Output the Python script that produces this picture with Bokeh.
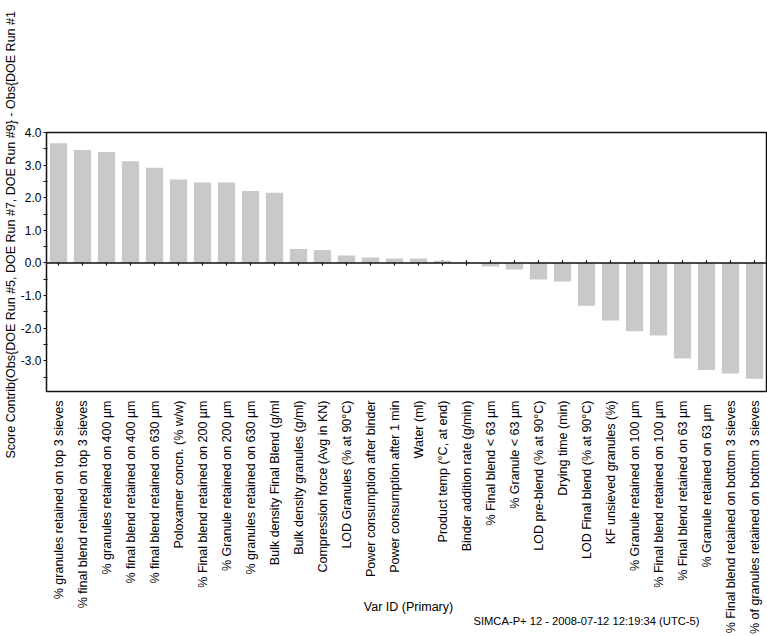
import math
from bokeh.plotting import figure
from bokeh.models import FactorRange, Range1d, FixedTicker, NumeralTickFormatter, Label, Span, Title
from bokeh.embed import file_html
from bokeh.resources import INLINE

categories = [
    "% granules retained on top 3 sieves",
    "% final blend retained on top 3 sieves",
    "% granules retained on 400 µm",
    "% final blend retained on 400 µm",
    "% final blend retained on 630 µm",
    "Poloxamer concn. (% w/w)",
    "% Final blend retained on 200 µm",
    "% Granule retained on 200 µm",
    "% granules retained on 630 µm",
    "Bulk density Final Blend (g/ml",
    "Bulk density granules (g/ml)",
    "Compression force (Avg in KN)",
    "LOD Granules (% at 90°C)",
    "Power consumption after binder",
    "Power consumption after 1 min",
    "Water (ml)",
    "Product temp (°C, at end)",
    "Binder addition rate (g/min)",
    "% Final blend < 63 µm",
    "% Granule < 63 µm",
    "LOD pre-blend (% at 90°C)",
    "Drying time (min)",
    "LOD Final blend (% at 90°C)",
    "KF unsieved granules (%)",
    "% Granule retained on 100 µm",
    "% Final blend retained on 100 µm",
    "% Final blend retained on 63 µm",
    "% Granule retained on  63 µm",
    "% Final blend retained on bottom 3 sieves",
    "% of granules retained on bottom 3 sieves",
]
values = [3.67, 3.46, 3.40, 3.12, 2.92, 2.56, 2.47, 2.47, 2.21, 2.15,
          0.43, 0.40, 0.23, 0.17, 0.14, 0.14, 0.07, 0.01, -0.11, -0.20,
          -0.51, -0.57, -1.31, -1.76, -2.09, -2.22, -2.93, -3.28, -3.39, -3.55]
y_ticks = [-3, -2, -1, 0, 1, 2, 3, 4]
y_minor = [-3.5, -2.5, -1.5, -0.5, 0.5, 1.5, 2.5, 3.5]
y_title = "Score Contrib(Obs{DOE Run #5, DOE Run #7, DOE Run #9} - Obs{DOE Run #1"
x_title = "Var ID (Primary)"
footer = "SIMCA-P+ 12 - 2008-07-12 12:19:34 (UTC-5)"

FONT = "Liberation Sans"
W, H = 767, 636

p = figure(width=W, height=H, output_backend="svg", toolbar_location=None,
           x_range=FactorRange(factors=categories, range_padding=0),
           y_range=Range1d(-3.94, 4.0),
           min_border_left=46, min_border_top=132, min_border_right=1, min_border_bottom=243)
p.background_fill_color = "white"
p.border_fill_color = "white"
p.outline_line_color = "#111111"
p.outline_line_width = 1.5
p.grid.visible = False

# tick marks at the zero line
p.segment(x0=categories, x1=categories, y0=[-0.08] * len(categories), y1=[0.08] * len(categories),
          line_color="#111111", line_width=1.2)
p.vbar(x=categories, top=values, bottom=0, width=0.72, fill_color="#c9c9c9", line_color=None)
p.add_layout(Span(location=0, dimension="width", line_color="#111111", line_width=1.5))

xa = p.xaxis[0]
xa.axis_line_color = None
xa.major_tick_line_color = None
xa.minor_tick_line_color = None
xa.major_label_orientation = math.pi / 2
xa.major_label_standoff = 3
xa.major_label_text_font = FONT
xa.major_label_text_font_size = "12.5px"
xa.major_label_text_color = "black"

ya = p.yaxis[0]
ya.ticker = FixedTicker(ticks=y_ticks, minor_ticks=y_minor)
ya.formatter = NumeralTickFormatter(format="0.0")
ya.axis_line_color = None
ya.major_tick_out = 3
ya.major_tick_in = 0
ya.minor_tick_out = 3
ya.minor_tick_in = 1
ya.major_tick_line_color = "#111111"
ya.minor_tick_line_color = "#111111"
ya.major_label_standoff = 2
ya.major_label_text_font = FONT
ya.major_label_text_font_size = "12px"
ya.major_label_text_color = "black"

# vertical axis title in the left panel, starting below the frame
p.add_layout(Title(text=y_title, align="left", offset=-67, standoff=0,
                   text_font=FONT, text_font_size="12.5px", text_font_style="normal",
                   text_color="black"), "left")

# horizontal texts positioned in canvas pixels
p.add_layout(Label(x=408, y=606, x_units="canvas", y_units="canvas", text=x_title,
                   text_align="center", text_baseline="middle",
                   text_font=FONT, text_font_size="12.5px", text_color="black"), "above")
p.add_layout(Label(x=699, y=620, x_units="canvas", y_units="canvas", text=footer,
                   text_align="right", text_baseline="middle",
                   text_font=FONT, text_font_size="11.2px", text_color="black"), "above")

open("out.html", "w").write(file_html(p, INLINE))
